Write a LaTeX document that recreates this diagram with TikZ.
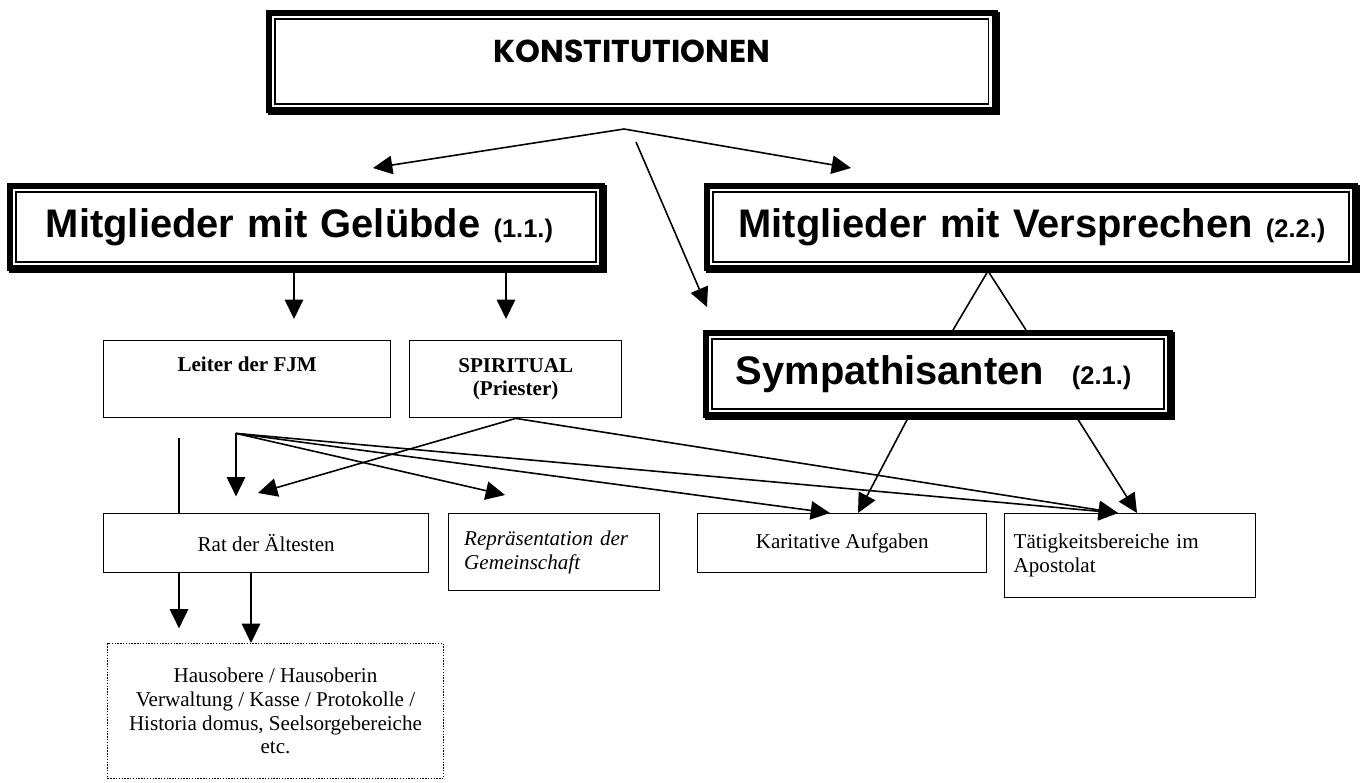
\documentclass[tikz,border=0pt]{standalone}
\usepackage{fontspec}
\setmainfont{Liberation Serif}
\newfontfamily\arialfont{Liberation Sans}
\newfontfamily\gothfont{Poppins}
\usetikzlibrary{arrows.meta,calc}

\newcommand\headtxt{\arialfont\bfseries\fontsize{22.7}{26}\selectfont}
\newcommand\numtxt{\fontsize{14.5}{17}\selectfont}

\tikzset{
  frame/.style={draw, line width=3.4pt, fill=white, inner sep=0pt, anchor=north west,
    preaction={draw, line width=3.4pt, transform canvas={xshift=1.3pt, yshift=-1.3pt}},
    path picture={\draw[line width=0.7pt]
      ([shift={(3.4pt,-3.4pt)}]path picture bounding box.north west) rectangle
      ([shift={(-3.4pt,3.4pt)}]path picture bounding box.south east);}},
  plain/.style={draw, line width=0.8pt, fill=white, inner sep=0pt, anchor=north west,
    font=\fontsize{12}{13.5}\selectfont},
  arr/.style={line width=0.9pt, -{Triangle[length=11pt,width=10.5pt]}},
  ln/.style={line width=0.9pt}
}

\begin{document}
\begin{tikzpicture}[x=0.02cm, y=-0.02cm]
\fill[white] (0,0) rectangle (1365,782);
\useasboundingbox (0,0) rectangle (1365,782);

% ===== top: Konstitutionen and the two groups =====
\node[frame, minimum width=145.2mm, minimum height=19.4mm, text depth=12pt,
  font=\gothfont\bfseries\fontsize{18}{21}\selectfont] (konst) at (266,10) {KONSTITUTIONEN};

\node[frame, minimum width=118.4mm, minimum height=16.4mm, text width=104mm, align=left,
  font=\headtxt] (gel) at (7,183) {\mbox{Mitglieder mit Gelübde {\numtxt(1.1.)}}};
\node[frame, minimum width=129.6mm, minimum height=16.4mm, text width=117mm, align=left,
  font=\headtxt] (ver) at (704,183) {\mbox{Mitglieder mit Versprechen {\numtxt(2.2.)}}};
\node[frame, minimum width=92.8mm, minimum height=16.4mm, text width=80.8mm, align=left,
  font=\headtxt] (symp) at (703,330) {\mbox{Sympathisanten\hspace{0.7em}{\numtxt(2.1.)}}};

% ===== middle row =====
\node[plain, minimum width=57.4mm, minimum height=15.4mm, align=center, font=\fontsize{12}{13.5}\selectfont\bfseries]
  (leiter) at (103,340) {Leiter der FJM\\\strut};
\node[plain, minimum width=42.4mm, minimum height=15.4mm, align=center, font=\fontsize{12}{13.5}\selectfont\bfseries]
  (spir) at (409,340) {SPIRITUAL\\(Priester)};

% ===== bottom row =====
\node[plain, minimum width=65mm, minimum height=11.8mm] (rat) at (103,513) {Rat der Ältesten};
\node[plain, minimum width=42.2mm, minimum height=15.4mm, text width=36mm, align=left,
  font=\fontsize{12}{13.5}\selectfont\itshape] (rep) at (448,513) {Repräsentation der\\Gemeinschaft};
\node[plain, minimum width=57.8mm, minimum height=11.8mm] (kar) at (697,513) {Karitative Aufgaben};
\node[plain, minimum width=50.2mm, minimum height=16.8mm, text width=46.6mm, align=left]
  (taet) at (1004,513) {Tätigkeitsbereiche im\\Apostolat};
\node[plain, dash pattern=on 0.8pt off 0.8pt, line width=0.6pt, minimum width=67.2mm,
  minimum height=27mm, align=center] (haus) at (107,643)
  {Hausobere / Hausoberin\\Verwaltung / Kasse / Protokolle /\\Historia domus, Seelsorgebereiche\\etc.};

% ===== arrows from the top =====
\coordinate (kTop) at (624,129);
\coordinate (kMid) at (636,142);
\coordinate (gTip) at (373,168);
\coordinate (vTip) at (851,168);
\coordinate (sTip) at (707,307);
\draw[arr] (kTop) -- (gTip);
\draw[arr] (kTop) -- (vTip);
\draw[arr] (kMid) -- (sTip);

\draw[arr] ($(gel.south west)+(287,0)$) -- ++(0,48);
\draw[arr] ($(gel.south west)+(499,0)$) -- ++(0,48);

\draw[ln] ($(symp.north west)+(250,0)$) -- ($(ver.south west)+(284,0)$) -- ($(symp.north west)+(323,0)$);
\draw[arr] ($(symp.south west)+(205,0)$) -- ($(kar.north west)+(161,0)$);
\draw[arr] ($(symp.south west)+(374,0)$) -- ($(taet.north west)+(133,0)$);

% ===== lines below Leiter / Spiritual =====
\coordinate (lA) at ($(leiter.south west)+(76,20)$);
\coordinate (lB) at ($(leiter.south west)+(133,15)$);
\draw[ln] (lA) -- (lA |- rat.north);
\draw[arr] (lB) -- ++(0,63);
\draw[arr] (lB) -- ($(rep.north west)+(57,-18)$);
\draw[arr] (lB) -- ($(kar.north west)+(133,0)$);
\draw[arr] (lB) -- ($(taet.north west)+(114,0)$);

\draw[arr] (spir.south) -- ($(rat.north west)+(155,-20)$);
\draw[arr] (spir.south) -- ($(taet.north west)+(114,0)$);

\draw[arr] ($(rat.south west)+(76,0)$) -- ++(0,55);
\draw[arr] ($(rat.south west)+(148,0)$) -- ($(haus.north west)+(144,0)$);

\end{tikzpicture}
\end{document}
